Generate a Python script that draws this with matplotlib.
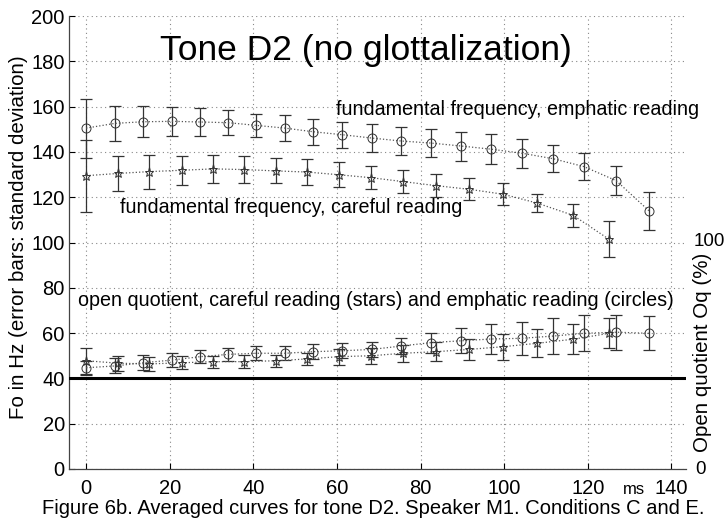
import numpy as np
import matplotlib
matplotlib.use("Agg")
import matplotlib.pyplot as plt

plt.rcParams['font.family'] = ['Liberation Sans', 'DejaVu Sans']

# time points (ms)
t_emph = [0, 6.9, 13.6, 20.6, 27.3, 34.0, 40.7, 47.6, 54.3, 61.2,
          68.4, 75.4, 82.5, 89.7, 96.9, 104.3, 111.7, 119.1, 126.8, 134.7]
t_care = [0, 7.7, 15.1, 23.0, 30.4, 37.8, 45.5, 52.9, 60.5, 68.2,
          75.8, 83.7, 91.6, 99.8, 107.9, 116.5, 125.1]

# F0 emphatic reading (circles)
f0_emph = [150.5, 152.6, 153.3, 153.5, 153.2, 152.9, 151.7, 150.5, 148.9, 147.6,
           146.1, 144.8, 143.9, 142.6, 141.2, 139.4, 137.0, 133.5, 127.3, 113.9]
f0_emph_sd = [13.0, 7.8, 6.8, 6.4, 6.0, 5.6, 5.2, 5.6, 5.7, 5.7,
              6.0, 6.0, 6.0, 6.4, 6.5, 6.3, 6.0, 6.0, 6.5, 8.5]

# F0 careful reading (stars)
f0_care = [129.5, 130.5, 131.3, 131.9, 132.5, 132.2, 131.6, 131.1, 129.9, 128.6,
           126.9, 125.1, 123.5, 121.3, 117.4, 112.0, 101.4]
f0_care_sd = [15.9, 7.9, 7.5, 6.3, 6.3, 5.8, 5.5, 5.6, 5.5, 5.2,
              5.2, 5.0, 4.9, 4.8, 4.1, 5.1, 8.0]

# open quotient
oq_emph = [44.7, 45.5, 46.9, 48.1, 49.6, 50.6, 51.1, 51.1, 51.8, 52.2,
           52.8, 54.3, 55.8, 56.6, 57.4, 57.7, 58.7, 59.9, 60.4, 59.9]
oq_emph_sd = [3.0, 3.3, 3.3, 3.0, 2.8, 2.8, 3.1, 3.0, 3.2, 3.3,
              3.3, 3.5, 4.4, 5.5, 6.5, 7.2, 7.9, 8.0, 7.7, 7.5]
oq_care = [47.8, 46.7, 46.4, 46.9, 47.4, 47.4, 47.8, 48.6, 49.6, 50.0,
           51.1, 51.8, 52.8, 54.0, 55.5, 57.3, 59.9]
oq_care_sd = [5.8, 3.3, 3.2, 2.8, 2.7, 2.8, 2.6, 2.8, 3.5, 3.6,
              3.7, 4.3, 4.6, 5.7, 6.1, 6.7, 6.6]

fig = plt.figure(figsize=(7.28, 5.19), dpi=100)
ax = fig.add_axes([69/728, 1-469/519, (686-69)/728, (469-16)/519])

ec = '#333333'
def curve(x, y, sd, marker, ms):
    ax.errorbar(x, y, yerr=sd, fmt='none', ecolor=ec, elinewidth=0.9,
                capsize=4.3, capthick=0.9, zorder=3)
    ax.plot(x, y, linestyle=':', color='#555555', lw=0.9, marker=marker,
            ms=ms, mfc='none', mec='#333333', mew=0.7, zorder=4)

curve(t_emph, f0_emph, f0_emph_sd, 'o', 6.5)
curve(t_care, f0_care, f0_care_sd, '*', 6.5)
curve(t_emph, oq_emph, oq_emph_sd, 'o', 6.5)
curve(t_care, oq_care, oq_care_sd, '*', 6.5)

ax.axhline(40, color='black', lw=2.2, zorder=5)

ax.set_xlim(-4.1, 143.5)
ax.set_ylim(0, 200)
ax.set_xticks(np.arange(0, 141, 20))
ax.set_yticks(np.arange(0, 201, 20))
ax.tick_params(direction='in', length=4, labelsize=14.5, colors='black', width=0.8)
ax.tick_params(axis='x', pad=7.5)
ax.tick_params(axis='y', pad=3)
ax.grid(True, linestyle=(0, (1, 3)), color='#888888', lw=0.8)
for s in ['top', 'right']:
    ax.spines[s].set_visible(False)
for s in ['left', 'bottom']:
    ax.spines[s].set_color('#444444')
    ax.spines[s].set_linewidth(0.9)

ax.text(17.7, 184.7, 'Tone D2 (no glottalization)', fontsize=25.5, ha='left', va='center')
ax.text(59.8, 158.7, 'fundamental frequency, emphatic reading', fontsize=14.2, ha='left', va='center')
ax.text(8.1, 115.6, 'fundamental frequency, careful reading', fontsize=14.2, ha='left', va='center')
ax.text(-1.9, 74.4, 'open quotient, careful reading (stars) and emphatic reading (circles)',
        fontsize=14.2, ha='left', va='center')

fig.text(19/728, 1-237/519, 'Fo in Hz (error bars: standard deviation)', rotation=90,
         fontsize=14.8, ha='center', va='center')
fig.text(709/728, 1-241/519, '100', fontsize=13.5, ha='center', va='center')
fig.text(701/728, 1-469/519, '0', fontsize=13.5, ha='center', va='center')
fig.text(703/728, 1-352/519, 'Open quotient Oq (%)', rotation=90,
         fontsize=14.8, ha='center', va='center')
fig.text(634/728, 1-489/519, 'ms', fontsize=12, ha='center', va='center')
fig.text(42/728, 1-508/519,
         'Figure 6b. Averaged curves for tone D2. Speaker M1. Conditions C and E.',
         fontsize=14.5, ha='left', va='center')

fig.savefig('out.png', dpi=100)
